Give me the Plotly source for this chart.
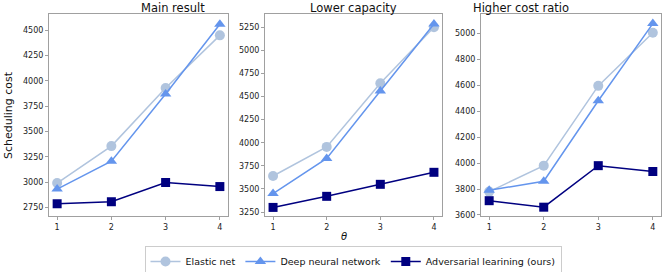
import plotly.graph_objects as go
from plotly.subplots import make_subplots

theta = [1, 2, 3, 4]
panel_titles = ["Main result", "Lower capacity", "Higher cost ratio"]
series_names = ["Elastic net", "Deep neural network", "Adversarial learining (ours)"]

elastic_main = [2990, 3355, 3930, 4450]
dnn_main = [2930, 3205, 3870, 4560]
adv_main = [2785, 2805, 2995, 2955]

elastic_lower = [3640, 3955, 4645, 5250]
dnn_lower = [3450, 3830, 4560, 5285]
adv_lower = [3300, 3420, 3550, 3680]

elastic_higher = [3780, 3980, 4595, 5005]
dnn_higher = [3790, 3860, 4480, 5075]
adv_higher = [3710, 3660, 3980, 3935]

yticks_main = [2750, 3000, 3250, 3500, 3750, 4000, 4250, 4500]
yticks_lower = [3250, 3500, 3750, 4000, 4250, 4500, 4750, 5000, 5250]
yticks_higher = [3600, 3800, 4000, 4200, 4400, 4600, 4800, 5000]

panels = [
    (elastic_main, dnn_main, adv_main, yticks_main, [2664, 4661]),
    (elastic_lower, dnn_lower, adv_lower, yticks_lower, [3207, 5394]),
    (elastic_higher, dnn_higher, adv_higher, yticks_higher, [3592, 5149]),
]

colors = ["#b0c4de", "#6495ed", "#000080"]
symbols = ["circle", "triangle-up", "square"]
msizes = [10, 10, 9]

W, H = 664, 272
FONT = "DejaVu Sans"

fig = make_subplots(rows=1, cols=3)

xdoms = [(49 / W, 228 / W), (265 / W, 442 / W), (481 / W, 661 / W)]
ydom = (1 - 216 / H, 1 - 14 / H)

for i, (el, dn, ad, yt, yr) in enumerate(panels):
    for j, vals in enumerate([el, dn, ad]):
        fig.add_trace(
            go.Scatter(
                x=theta, y=vals, mode="lines+markers",
                name=series_names[j],
                line=dict(color=colors[j], width=1.5),
                marker=dict(symbol=symbols[j], size=msizes[j], color=colors[j]),
                showlegend=(i == 0),
            ),
            row=1, col=i + 1,
        )
    axn = "" if i == 0 else str(i + 1)
    fig.update_layout(**{
        f"xaxis{axn}": dict(
            domain=list(xdoms[i]), range=[0.85, 4.15], tickvals=theta,
            showgrid=False, zeroline=False, showline=True, mirror=True,
            linecolor="#a0a0a0", linewidth=1, ticks="outside", ticklen=3,
            tickcolor="#a0a0a0", tickfont=dict(size=8, color="#222", family=FONT),
            automargin=False,
        ),
        f"yaxis{axn}": dict(
            domain=list(ydom), range=yr, tickvals=yt,
            showgrid=False, zeroline=False, showline=True, mirror=True,
            linecolor="#a0a0a0", linewidth=1, ticks="outside", ticklen=3,
            tickcolor="#a0a0a0", tickfont=dict(size=8, color="#222", family=FONT),
            automargin=False,
        ),
    })
    fig.add_annotation(
        text=panel_titles[i], xref="paper", yref="paper",
        x=(xdoms[i][0] + xdoms[i][1]) / 2, y=1 - 7.5 / H, yanchor="middle",
        showarrow=False, font=dict(size=11.5, color="#111", family=FONT),
    )

fig.add_annotation(
    text="Scheduling cost", xref="paper", yref="paper", x=8 / W, y=1 - 115 / H,
    xanchor="center", yanchor="middle",
    textangle=-90, showarrow=False, font=dict(size=11, color="#111", family=FONT),
)
fig.add_annotation(
    text="<i>θ</i>", xref="paper", yref="paper", x=344 / W, y=1 - 236 / H,
    xanchor="center", yanchor="middle",
    showarrow=False, font=dict(size=10, color="#111", family=FONT),
)

fig.update_layout(
    width=W, height=H, margin=dict(l=0, r=0, t=0, b=0, autoexpand=False),
    paper_bgcolor="white", plot_bgcolor="white",
    font=dict(family=FONT),
    legend=dict(
        orientation="h", xref="container", yref="container",
        x=353 / W, xanchor="center", y=1 - 246 / H, yanchor="top",
        bordercolor="#cccccc", borderwidth=1, font=dict(size=9.5, color="#111", family=FONT),
        itemwidth=30, tracegroupgap=0,
    ),
)

fig.write_html(
    "out.html",
    config={"displayModeBar": False},
    post_script="document.body.style.margin='0px';document.body.style.overflow='hidden';",
)
